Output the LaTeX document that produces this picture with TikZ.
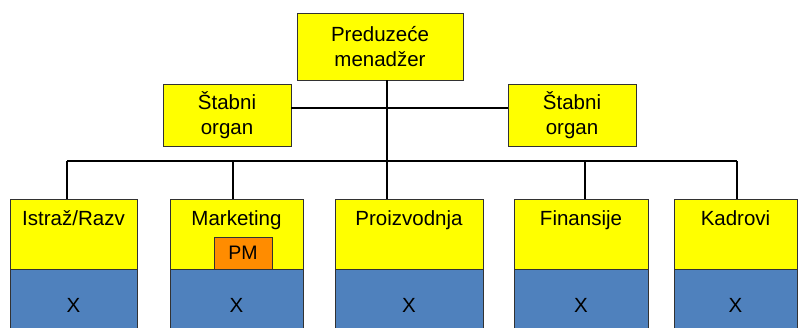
\documentclass[tikz,border=0pt]{standalone}
\usepackage{fontspec}
\setmainfont{Liberation Sans}
\definecolor{boxyellow}{RGB}{255,255,0}
\definecolor{boxblue}{RGB}{79,129,189}
\definecolor{pmorange}{RGB}{255,140,0}
\definecolor{edge}{RGB}{50,50,50}
\begin{document}
\begin{tikzpicture}[x=1pt,y=-1pt,
  every node/.style={inner sep=0pt, outer sep=0pt},
  ybox/.style={draw=edge, line width=0.9pt, fill=boxyellow, anchor=north west},
  bbox/.style={draw=edge, line width=0.9pt, fill=boxblue, anchor=north west},
  orgbox/.style={draw=edge, line width=0.9pt, fill=boxyellow, align=center,
    font=\fontsize{20.5}{25}\selectfont},
  lbl/.style={anchor=base, font=\fontsize{20.5}{25}\selectfont},
  link/.style={draw=black, line width=1.3pt}]
\useasboundingbox (0,0) rectangle (798,327);
\clip (0,0) rectangle (798,327);

% top management and staff bodies
\node[orgbox, minimum width=166pt, minimum height=67pt] (top) at (380,46.5) {Preduzeće\\menadžer};
\node[orgbox, minimum width=128pt, minimum height=62pt] (sl) at (227,115) {Štabni\\organ};
\node[orgbox, minimum width=128pt, minimum height=62pt] (sr) at (572,115) {Štabni\\organ};

% helper coordinates for the connector lines
\coordinate (spine) at (387,0);
\coordinate (staffrow) at (0,108);
\coordinate (bus) at (0,161);

% departments: yellow header over blue body
\foreach \n/\x/\w/\t in {d1/10/127/Istraž\slash Razv, d2/170/133/Marketing, d3/335/148/Proizvodnja, d4/514/134/Finansije, d5/674/123/Kadrovi}{
  \node[ybox, minimum width=\w pt, minimum height=70pt] (\n) at (\x,199) {};
  \node[bbox, minimum width=\w pt, minimum height=66pt] (\n b) at (\x,269) {};
  \node[lbl] (\n t) at ([yshift=-26pt]\n.north) {\t};
  \node[lbl] (\n x) at ([yshift=-43pt]\n b.north) {X};
}

% project manager inside marketing
\node[draw=edge, line width=0.9pt, fill=pmorange, minimum width=58pt, minimum height=32pt,
  font=\fontsize{19.5}{23}\selectfont] (pm) at (243,253) {PM};

% connectors
\draw[link] (top.south -| spine) -- (bus -| spine);
\draw[link] (sl.east |- staffrow) -- (sr.west |- staffrow);
\coordinate (c1) at (67,0);
\coordinate (c2) at (233,0);
\coordinate (c4) at (585,0);
\coordinate (c5) at (737,0);
\draw[link] (bus -| c1) -- (bus -| c5);
\draw[link] (bus -| c1) -- (d1.north -| c1);
\draw[link] (bus -| c2) -- (d2.north -| c2);
\draw[link] (bus -| spine) -- (d3.north -| spine);
\draw[link] (bus -| c4) -- (d4.north -| c4);
\draw[link] (bus -| c5) -- (d5.north -| c5);
\end{tikzpicture}
\end{document}
